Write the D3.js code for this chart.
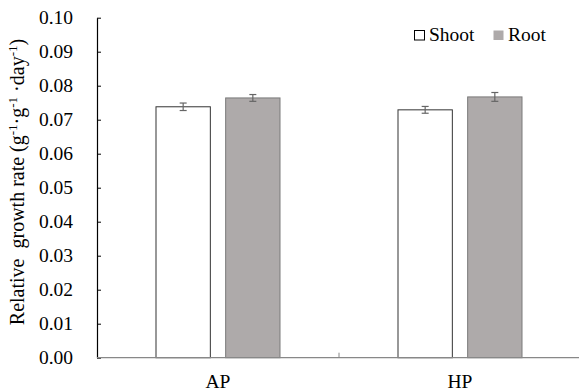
<!DOCTYPE html>
<html><head><meta charset="utf-8">
<script src="https://cdn.jsdelivr.net/npm/d3@7"></script>
<style>body{margin:0;background:#fff}svg{display:block}</style>
</head><body><svg id="c" width="579" height="391"></svg>
<script>
const categories = ["AP", "HP"];
const seriesNames = ["Shoot", "Root"];
const shootValues = [0.0738, 0.0729];
const rootValues = [0.0764, 0.0767];
const shootErrors = [0.0011, 0.0010];
const rootErrors = [0.0010, 0.0013];
const yTicks = [0, 0.01, 0.02, 0.03, 0.04, 0.05, 0.06, 0.07, 0.08, 0.09, 0.10];

const FONT = "'Liberation Serif', 'Times New Roman', Times, serif";
const svg = d3.select("#c");
const x0 = d3.scaleBand().domain(categories).range([97, 581]).padding(0);
const x1 = d3.scaleBand().domain(seriesNames).range([-62, 62]).paddingInner(0.22);
const y = d3.scaleLinear().domain([0, 0.10]).range([357.7, 17.7]);

const fills = {Shoot: "#ffffff", Root: "#aeaaaa"};
const strokes = {Shoot: "#333333", Root: "#7a7a7a"};

const data = [];
categories.forEach((c, i) => {
  data.push({cat: c, s: "Shoot", v: shootValues[i], e: shootErrors[i]});
  data.push({cat: c, s: "Root", v: rootValues[i], e: rootErrors[i]});
});

svg.selectAll("rect.bar").data(data).enter().append("rect")
  .attr("class", "bar")
  .attr("x", d => x0(d.cat) + x0.bandwidth() / 2 + x1(d.s))
  .attr("y", d => y(d.v))
  .attr("width", x1.bandwidth())
  .attr("height", d => y(0) - y(d.v))
  .attr("fill", d => fills[d.s])
  .attr("stroke", d => strokes[d.s])
  .attr("stroke-width", 1);

const eg = svg.append("g").attr("stroke", "#666").attr("stroke-width", 1.2).attr("fill", "none");
data.forEach(d => {
  const cx = x0(d.cat) + x0.bandwidth() / 2 + x1(d.s) + x1.bandwidth() / 2;
  eg.append("line").attr("x1", cx).attr("x2", cx).attr("y1", y(d.v + d.e)).attr("y2", y(d.v - d.e));
  eg.append("line").attr("x1", cx - 3.5).attr("x2", cx + 3.5).attr("y1", y(d.v + d.e)).attr("y2", y(d.v + d.e));
  eg.append("line").attr("x1", cx - 3.5).attr("x2", cx + 3.5).attr("y1", y(d.v - d.e)).attr("y2", y(d.v - d.e));
});

const yAxis = d3.axisLeft(y).tickValues(yTicks).tickFormat(d3.format(".2f"))
  .tickSizeInner(-4).tickSizeOuter(0).tickPadding(24);
const ga = svg.append("g").attr("transform", "translate(97,0)").call(yAxis);
ga.attr("font-family", null).attr("font-size", null);
ga.select(".domain").attr("stroke", "#000").attr("stroke-width", 1.2);
ga.selectAll(".tick line").attr("stroke", "#000");
ga.selectAll(".tick text").style("font-family", FONT).style("font-size", "19.5px").attr("fill", "#000");

svg.append("line").attr("x1", 97).attr("x2", 579).attr("y1", y(0)).attr("y2", y(0))
  .attr("stroke", "#888").attr("stroke-width", 1.3);
svg.append("line").attr("x1", x0("HP")).attr("x2", x0("HP")).attr("y1", y(0)).attr("y2", y(0) - 5)
  .attr("stroke", "#888").attr("stroke-width", 1);
svg.selectAll("text.xl").data(categories).enter().append("text")
  .attr("class", "xl")
  .attr("x", d => x0(d) + x0.bandwidth() / 2)
  .attr("y", 388)
  .attr("text-anchor", "middle")
  .style("font-family", FONT).style("font-size", "19.5px")
  .text(d => d);

const yl = svg.append("text").attr("transform", "translate(24,182) rotate(-90)")
  .attr("text-anchor", "middle").style("font-family", FONT).style("font-size", "20px")
  .style("white-space", "pre").attr("xml:space", "preserve");
yl.append("tspan").text("Relative  growth rate (g");
yl.append("tspan").attr("baseline-shift", "super").style("font-size", "13px").text("-1");
yl.append("tspan").text("·g");
yl.append("tspan").attr("baseline-shift", "super").style("font-size", "13px").text("-1");
yl.append("tspan").text(" ·day");
yl.append("tspan").attr("baseline-shift", "super").style("font-size", "13px").text("-1");
yl.append("tspan").text(")");

const legendX = [414, 493];
seriesNames.forEach((s, i) => {
  svg.append("rect").attr("x", legendX[i] + 0.5).attr("y", 30.5).attr("width", 10).attr("height", 9.5)
    .attr("fill", fills[s]).attr("stroke", s === "Shoot" ? "#000" : "none");
  svg.append("text").attr("x", legendX[i] + 15).attr("y", 41)
    .style("font-family", FONT).style("font-size", "19.5px").text(s);
});
</script></body></html>
